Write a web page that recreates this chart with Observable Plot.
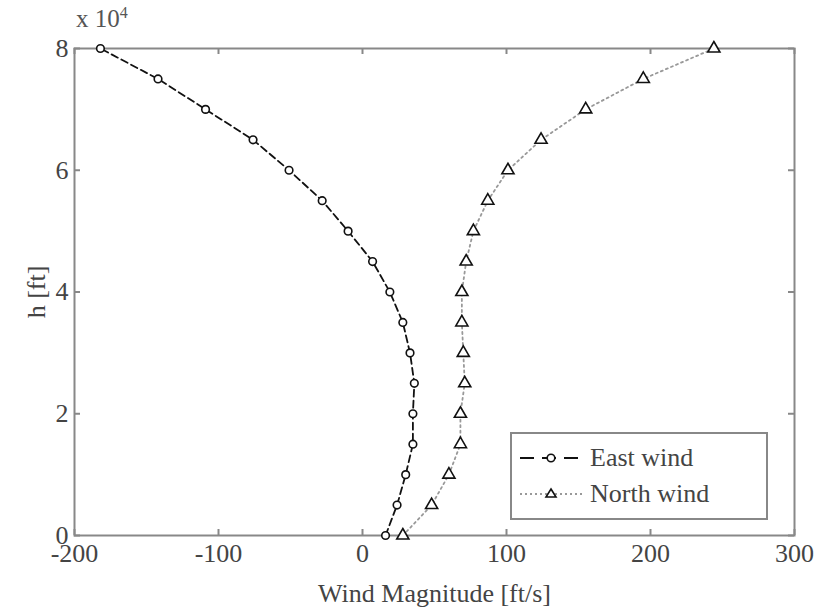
<!DOCTYPE html>
<html><head><meta charset="utf-8">
<script src="https://cdn.jsdelivr.net/npm/d3@7"></script>
<script src="https://cdn.jsdelivr.net/npm/@observablehq/plot@0.6"></script>
<style>
body{margin:0;background:#fff;font-family:"Liberation Serif","Times New Roman",serif;}
#wrap{position:relative;width:822px;height:608px;}
#exp{position:absolute;left:76px;top:4px;font-size:25px;color:#555;font-family:"Liberation Serif",serif;}
#exp sup{font-size:16px;}
#legend{position:absolute;left:510px;top:432px;width:258px;height:88px;border:2px solid #888;background:#fff;box-sizing:border-box;font-size:26px;color:#444;font-family:"Liberation Serif",serif;}
#legend .row{position:absolute;left:6px;height:32px;display:flex;align-items:center;}
#legend span{margin-left:6px;}
</style></head>
<body><div id="wrap"><div id="exp">x 10<sup>4</sup></div></div>
<script>
const heights = [0,5000,10000,15000,20000,25000,30000,35000,40000,45000,50000,55000,60000,65000,70000,75000,80000];
const eastWind = [16,24,30,35,35,36,33,28,19,7,-10,-28,-51,-76,-109,-142,-182];
const northWind = [28,48,60,68,68,71,70,69,69,72,77,87,101,124,155,195,244];
const xTicks = [-200,-100,0,100,200,300];
const yTicks = [0,20000,40000,60000,80000];
const seriesNames = ["East wind","North wind"];

const east = heights.map((h,i)=>({h, v: eastWind[i]}));
const north = heights.map((h,i)=>({h, v: northWind[i]}));

const W=822, H=608, mL=74, mR=28, mT=48, mB=73;
const innerH = H-mT-mB, innerW = W-mL-mR, tk=6;
const axisColor="#888", textColor="#444";
const FF = '"Liberation Serif", serif';

const plot = Plot.plot({
  width: W, height: H,
  marginLeft: mL, marginRight: mR, marginTop: mT, marginBottom: mB,
  style: {fontFamily: FF, fontSize: "26px", color: textColor, background: "transparent"},
  x: {domain: [-200,300]},
  y: {domain: [0,80000]},
  marks: [
    Plot.frame({stroke: axisColor, strokeWidth: 2}),
    Plot.ruleX(xTicks, {x: d=>d, stroke: axisColor, strokeWidth: 2, insetTop: innerH-tk}),
    Plot.ruleX(xTicks, {x: d=>d, stroke: axisColor, strokeWidth: 2, insetBottom: innerH-tk}),
    Plot.ruleY(yTicks, {y: d=>d, stroke: axisColor, strokeWidth: 2, insetRight: innerW-tk}),
    Plot.ruleY(yTicks, {y: d=>d, stroke: axisColor, strokeWidth: 2, insetLeft: innerW-tk}),
    Plot.axisX({ticks: xTicks, tickSize: 0, tickPadding: 8, tickFormat: d=>String(d), label: "Wind Magnitude [ft/s]", labelAnchor: "center", labelArrow: "none", labelOffset: 66, fill: textColor, fontSize: 26, fontFamily: FF}),
    Plot.axisY({ticks: yTicks, tickSize: 0, tickPadding: 6, tickFormat: d=>d/1e4, label: "h [ft]", labelAnchor: "center", labelArrow: "none", labelOffset: 48, fill: textColor, fontSize: 26, fontFamily: FF}),
    Plot.line(north, {x: "v", y: "h", stroke: "#999", strokeWidth: 1.8, strokeDasharray: "2,3.5"}),
    Plot.dot(north, {x: "v", y: "h", symbol: "triangle", r: 4.5, stroke: "#111", strokeWidth: 1.6, fill: "#fff"}),
    Plot.line(east, {x: "v", y: "h", stroke: "#111", strokeWidth: 1.8, strokeDasharray: "7,4"}),
    Plot.dot(east, {x: "v", y: "h", symbol: "circle", r: 3.8, stroke: "#111", strokeWidth: 1.6, fill: "#fff"})
  ]
});
const wrap = document.getElementById("wrap");
wrap.insertBefore(plot, wrap.firstChild);

const lg = document.createElement("div");
lg.id = "legend";
lg.innerHTML = `
<div class="row" style="top:8px"><svg width="66" height="20"><line x1="2" y1="10" x2="64" y2="10" stroke="#111" stroke-width="2" stroke-dasharray="14,8"/><circle cx="33" cy="10" r="3.8" fill="#fff" stroke="#111" stroke-width="1.6"/></svg><span>${seriesNames[0]}</span></div>
<div class="row" style="top:44px"><svg width="66" height="20"><line x1="2" y1="10" x2="64" y2="10" stroke="#999" stroke-width="1.8" stroke-dasharray="2,3"/><path d="M33,5 L38,13 L28,13 Z" fill="#fff" stroke="#111" stroke-width="1.6"/></svg><span>${seriesNames[1]}</span></div>`;
wrap.appendChild(lg);
</script></body></html>
